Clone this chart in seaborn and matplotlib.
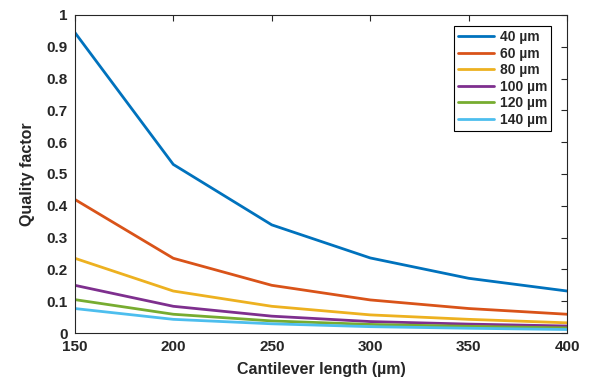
import matplotlib
matplotlib.use("Agg")
import matplotlib.pyplot as plt
import seaborn as sns
import pandas as pd

lengths = [150, 200, 250, 300, 350, 400]
widths = ["40 µm", "60 µm", "80 µm", "100 µm", "120 µm", "140 µm"]
q40 = [0.945, 0.530, 0.340, 0.236, 0.172, 0.132]
q60 = [0.420, 0.235, 0.150, 0.104, 0.077, 0.059]
q80 = [0.235, 0.132, 0.084, 0.057, 0.043, 0.032]
q100 = [0.150, 0.084, 0.053, 0.036, 0.028, 0.022]
q120 = [0.105, 0.059, 0.038, 0.027, 0.021, 0.016]
q140 = [0.077, 0.043, 0.029, 0.020, 0.015, 0.011]
series = [q40, q60, q80, q100, q120, q140]
colors = ["#0072BD", "#D95319", "#EDB120", "#7E2F8E", "#77AC30", "#4DBEEE"]

rows = []
for w, vals in zip(widths, series):
    for x, y in zip(lengths, vals):
        rows.append({"Cantilever length (µm)": x, "Quality factor": y, "Width": w})
df = pd.DataFrame(rows)

sns.set_style("white")
plt.rcParams["font.family"] = ["Liberation Sans", "DejaVu Sans"]
plt.rcParams["font.weight"] = "bold"

fig = plt.figure(figsize=(5.89, 3.83), dpi=100)
ax = fig.add_axes([0.127, 0.1305, 0.836, 0.8305])
sns.lineplot(data=df, x="Cantilever length (µm)", y="Quality factor", hue="Width",
             palette=colors, linewidth=2, ax=ax, legend=True)

ax.set_xlim(150, 400)
ax.set_ylim(0, 1)
ax.set_xticks(lengths)
ax.set_yticks([0, 0.1, 0.2, 0.3, 0.4, 0.5, 0.6, 0.7, 0.8, 0.9, 1])
ax.set_yticklabels(["0", "0.1", "0.2", "0.3", "0.4", "0.5", "0.6", "0.7", "0.8", "0.9", "1"])
ax.tick_params(direction="in", length=4, width=0.8, color="#262626",
               top=True, right=True, labelsize=11, pad=5)
for lab in ax.get_xticklabels() + ax.get_yticklabels():
    lab.set_fontweight("bold")
    lab.set_color("#262626")
for s in ax.spines.values():
    s.set_color("#262626")
    s.set_linewidth(0.8)
ax.set_xlabel("Cantilever length (µm)", fontsize=11.5, fontweight="bold", labelpad=6)
ax.set_ylabel("Quality factor", fontsize=11.5, fontweight="bold", labelpad=8)

leg = ax.legend(loc="upper right", bbox_to_anchor=(0.9675, 0.965), borderaxespad=0,
                frameon=True, fancybox=False, edgecolor="black", framealpha=1,
                prop={"weight": "bold", "size": 10}, handlelength=2.6,
                handletextpad=0.4, labelspacing=0.18, borderpad=0.3)
leg.get_frame().set_linewidth(0.8)

fig.savefig("out.png", dpi=100)
